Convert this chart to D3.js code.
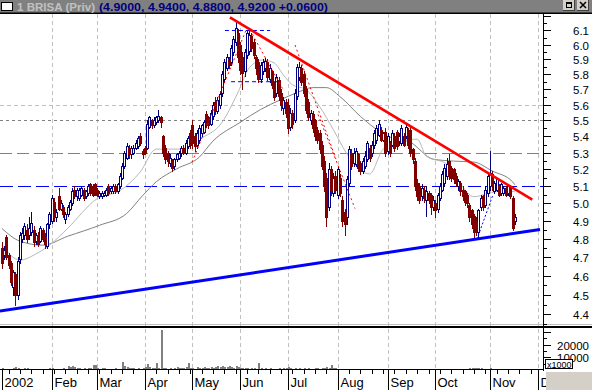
<!DOCTYPE html>
<html>
<head>
<meta charset="utf-8">
<script src="https://cdn.jsdelivr.net/npm/d3@7"></script>
<style>
  html, body { margin: 0; padding: 0; background: #fff; }
  svg { display: block; font-family: "Liberation Sans", Arial, sans-serif; }
</style>
</head>
<body>
<svg id="chart" width="592" height="390"></svg>
<script>
// daily bars [open, high, low, close], one array per month
var janBars = [
  [4.75,4.78,4.64,4.67],[4.71,4.76,4.69,4.74],[4.81,4.82,4.69,4.70],[4.71,4.72,4.64,4.66],
  [4.67,4.68,4.55,4.57],[4.54,4.63,4.50,4.62],[4.61,4.62,4.45,4.50],[4.50,4.70,4.48,4.68],
  [4.69,4.84,4.67,4.82],[4.80,4.86,4.78,4.83],[4.82,4.89,4.80,4.87],[4.85,4.88,4.78,4.80],
  [4.82,4.92,4.80,4.86],[4.84,4.95,4.82,4.89],[4.85,4.87,4.76,4.78],[4.79,4.83,4.77,4.82],
  [4.82,4.84,4.76,4.77],[4.79,4.87,4.78,4.86],[4.85,4.86,4.79,4.80],[4.81,4.83,4.75,4.77],
  [4.76,4.89,4.75,4.88],[4.88,4.95,4.86,4.94]
];
var febBars = [
  [4.90,5.05,4.89,5.03],[5.01,5.03,4.90,4.92],[4.92,4.97,4.90,4.95],[5.04,5.09,4.96,4.97],
  [4.97,5.02,4.96,5.00],[4.98,4.99,4.92,4.94],[4.91,4.95,4.89,4.94],[4.94,4.99,4.93,4.98],
  [4.97,5.02,4.96,5.01],[5.00,5.09,4.99,5.07],[5.08,5.10,5.03,5.04],[5.04,5.09,5.02,5.08],
  [5.03,5.09,5.02,5.08],[5.05,5.10,5.04,5.09],[5.08,5.09,5.02,5.03],[5.04,5.08,5.03,5.07],
  [5.06,5.11,5.05,5.10],[5.11,5.12,5.05,5.06],[5.10,5.11,5.04,5.05],[5.11,5.12,5.05,5.06]
];
var marBars = [
  [5.08,5.09,5.04,5.05],[5.04,5.07,5.03,5.06],[5.04,5.07,5.03,5.06],[5.05,5.07,5.04,5.06],
  [5.05,5.09,5.04,5.08],[5.10,5.11,5.05,5.06],[5.07,5.10,5.06,5.09],[5.07,5.11,5.06,5.10],
  [5.10,5.11,5.06,5.07],[5.07,5.12,5.06,5.11],[5.10,5.18,5.09,5.16],[5.15,5.24,5.14,5.22],
  [5.22,5.31,5.21,5.30],[5.27,5.36,5.26,5.34],[5.33,5.35,5.27,5.29],[5.29,5.34,5.27,5.33],
  [5.30,5.35,5.29,5.33],[5.33,5.38,5.32,5.36],[5.34,5.40,5.33,5.39],[5.40,5.42,5.35,5.36],
  [5.31,5.32,5.27,5.29]
];
var aprBars = [
  [5.33,5.34,5.29,5.30],[5.33,5.50,5.32,5.48],[5.46,5.53,5.45,5.52],[5.50,5.51,5.45,5.47],
  [5.47,5.52,5.46,5.50],[5.49,5.53,5.48,5.52],[5.50,5.57,5.49,5.53],[5.52,5.53,5.46,5.49],
  [5.40,5.41,5.28,5.30],[5.33,5.35,5.24,5.26],[5.30,5.31,5.22,5.25],[5.24,5.29,5.22,5.27],
  [5.25,5.26,5.19,5.21],[5.22,5.27,5.20,5.26],[5.26,5.30,5.25,5.29],[5.27,5.31,5.26,5.30],
  [5.30,5.34,5.28,5.33],[5.33,5.35,5.29,5.30],[5.30,5.38,5.29,5.36],[5.34,5.40,5.33,5.39],
  [5.42,5.44,5.33,5.35]
];
var mayBars = [
  [5.47,5.50,5.33,5.36],[5.40,5.42,5.31,5.34],[5.35,5.44,5.33,5.42],[5.38,5.47,5.36,5.45],
  [5.42,5.48,5.40,5.47],[5.43,5.50,5.42,5.49],[5.54,5.56,5.46,5.48],[5.52,5.53,5.45,5.47],
  [5.48,5.57,5.47,5.55],[5.53,5.62,5.51,5.60],[5.62,5.65,5.54,5.56],[5.56,5.65,5.55,5.63],
  [5.60,5.69,5.58,5.67],[5.68,5.82,5.66,5.80],[5.77,5.90,5.75,5.88],[5.84,5.94,5.83,5.92],
  [5.90,5.92,5.84,5.86],[5.88,6.00,5.86,5.98],[5.95,6.06,5.93,6.04],[6.02,6.16,6.00,6.12],
  [6.08,6.11,5.88,5.92]
];
var junBars = [
  [6.00,6.02,5.80,5.83],[5.92,5.95,5.70,5.81],[5.82,5.97,5.79,5.95],[5.93,6.10,5.91,6.08],
  [5.96,6.10,5.94,6.07],[6.06,6.08,5.96,5.98],[6.02,6.04,5.91,5.93],[5.92,5.93,5.80,5.84],
  [5.88,5.90,5.75,5.77],[5.77,5.88,5.75,5.86],[5.82,5.90,5.80,5.88],[5.84,5.91,5.82,5.89],
  [5.88,5.90,5.76,5.78],[5.77,5.87,5.75,5.84],[5.82,5.83,5.71,5.73],[5.74,5.75,5.63,5.65],
  [5.68,5.80,5.66,5.78],[5.76,5.78,5.63,5.66],[5.68,5.70,5.57,5.60],[5.58,5.65,5.54,5.63],
  [5.62,5.64,5.52,5.55]
];
var julBars = [
  [5.60,5.64,5.42,5.45],[5.46,5.58,5.44,5.55],[5.55,5.57,5.45,5.48],[5.50,5.70,5.49,5.68],
  [5.66,5.87,5.64,5.85],[5.78,5.88,5.76,5.85],[5.84,5.86,5.73,5.75],[5.80,5.82,5.66,5.68],
  [5.70,5.72,5.55,5.57],[5.62,5.64,5.50,5.52],[5.50,5.57,5.48,5.55],[5.54,5.56,5.43,5.45],
  [5.50,5.51,5.38,5.40],[5.44,5.46,5.36,5.38],[5.42,5.44,5.30,5.32],[5.35,5.37,5.20,5.22],
  [5.25,5.28,5.07,5.10],[5.15,5.18,4.87,4.92],[4.98,5.24,4.96,5.20],[5.20,5.22,5.05,5.08],
  [5.06,5.18,5.04,5.15],[5.16,5.19,5.06,5.08]
];
var augBars = [
  [5.05,5.22,5.03,5.20],[5.15,5.17,5.04,5.06],[5.02,5.04,4.87,4.90],[4.95,4.97,4.82,4.88],
  [4.92,5.16,4.88,5.14],[5.12,5.34,5.10,5.32],[5.30,5.32,5.20,5.22],[5.24,5.33,5.22,5.30],
  [5.23,5.33,5.22,5.31],[5.29,5.30,5.19,5.21],[5.24,5.25,5.17,5.19],[5.19,5.27,5.18,5.25],
  [5.22,5.31,5.21,5.28],[5.26,5.37,5.25,5.36],[5.33,5.35,5.25,5.27],[5.30,5.37,5.28,5.35],
  [5.35,5.44,5.33,5.42],[5.38,5.47,5.36,5.45],[5.41,5.50,5.40,5.48],[5.44,5.46,5.37,5.38],
  [5.38,5.43,5.37,5.42],[5.43,5.45,5.28,5.30]
];
var sepBars = [
  [5.31,5.42,5.29,5.40],[5.36,5.37,5.28,5.30],[5.35,5.44,5.34,5.42],[5.40,5.42,5.31,5.33],
  [5.43,5.44,5.32,5.34],[5.37,5.42,5.35,5.40],[5.36,5.47,5.35,5.45],[5.40,5.42,5.34,5.35],
  [5.40,5.48,5.39,5.46],[5.44,5.45,5.33,5.35],[5.44,5.46,5.28,5.30],[5.32,5.33,5.24,5.26],
  [5.25,5.27,5.08,5.10],[5.12,5.14,5.02,5.04],[5.10,5.12,5.00,5.02],[5.04,5.11,5.02,5.09],
  [5.08,5.10,5.01,5.03],[5.02,5.10,4.93,5.07],[5.06,5.07,5.00,5.02],[5.05,5.06,4.94,4.98],
  [4.98,5.04,4.96,5.02]
];
var octBars = [
  [5.00,5.02,4.92,4.96],[4.97,5.06,4.95,5.05],[5.03,5.12,5.02,5.10],[5.08,5.19,5.07,5.17],
  [5.12,5.23,5.10,5.21],[5.16,5.27,5.14,5.23],[5.25,5.29,5.14,5.16],[5.21,5.22,5.13,5.15],
  [5.20,5.21,5.12,5.14],[5.16,5.18,5.10,5.12],[5.10,5.14,5.08,5.13],[5.12,5.13,5.05,5.07],
  [5.08,5.10,5.02,5.04],[5.07,5.08,4.99,5.01],[5.05,5.06,4.98,5.00],[4.99,5.00,4.90,4.92],
  [4.96,4.97,4.86,4.88],[4.93,4.94,4.80,4.84],[4.90,4.92,4.82,4.85],[4.84,4.97,4.81,4.96],
  [4.98,5.05,4.96,5.03],[5.04,5.05,4.96,4.98],[4.99,5.10,4.98,5.08],[5.06,5.18,5.04,5.16]
];
var novBars = [
  [5.10,5.31,5.08,5.18],[5.17,5.19,5.08,5.10],[5.07,5.13,5.06,5.12],[5.08,5.15,5.07,5.14],
  [5.10,5.11,5.04,5.05],[5.06,5.12,5.05,5.11],[5.06,5.10,5.05,5.09],[5.09,5.10,5.04,5.05],
  [5.06,5.11,5.05,5.10],[5.09,5.10,5.03,5.04],[5.03,5.04,4.85,4.86],[4.90,4.94,4.88,4.92]
];

// daily volume, thousands of shares
var janVol = [1200,900,1100,800,1000,1300,2200,1500,900,1000,1800,1200,900,800,700,1000,900,800,1100,1000,900,1200];
var febVol = [1400,900,1100,1000,900,1300,1000,2800,2400,2900,2000,1500,1200,1000,1300,1100,1400,1500,4300,3600];
var marVol = [1300,1000,1200,1400,900,1100,800,1000,1300,1100,900,6600,3500,2000,1700,1500,1200,900,1300,1100,1800];
var aprVol = [2400,4700,2000,1500,1800,5600,1300,31500,1500,1200,1000,1400,1100,1600,2500,1800,1300,1200,2000,5800,1500];
var mayVol = [1300,1100,2000,1500,1200,2400,1800,1500,2000,1300,2500,2800,2200,3100,2600,2400,3000,2500,1800,3200,2100];
var junVol = [1500,1300,1800,1200,1000,1400,1600,1100,5300,1200,900,1500,1000,1200,800,1100,900,1300,1000,1200,1400];
var julVol = [2600,1800,1000,1300,900,1200,1000,1400,800,1600,900,1000,1200,1900,1000,1300,1500,2000,1500,3800,1800,1200];
var augVol = [900,700,800,600,1000,700,600,800,500,700,600,500,800,600,700,500,600,800,700,600,500,700];
var sepVol = [600,500,700,600,500,800,600,500,700,600,800,700,900,700,600,500,700,600,500,700,600];
var octVol = [700,600,800,700,600,900,700,600,800,700,600,700,800,900,1000,1200,1500,1800,1400,1600,1200,1000,900,800];
var novVol = [1400,900,700,600,700,500,600,700,500,600,900,700];

// month labels and the bar index where each month starts
var monthLabels = ["2002","Feb","Mar","Apr","May","Jun","Jul","Aug","Sep","Oct","Nov","Dec"];
var monthStarts = [0,22,42,63,84,105,126,148,170,191,215,236];

// moving averages [bar index, price]
var fastMA = [[0,4.765],[8,4.684],[15,4.717],[21,4.765],[29,4.858],[42,5.027],[52,5.073],[61,5.184],
  [68,5.322],[78,5.322],[87,5.383],[97,5.488],[104,5.679],[109,5.843],[115,5.897],[120,5.877],
  [124,5.797],[128,5.731],[134,5.699],[140,5.589],[146,5.444],[153,5.273],[162,5.172],[168,5.322],
  [175,5.371],[183,5.383],[187,5.279],[196,5.231],[202,5.114],[208,5.038],[214,5.056],[221,5.073],[226,5.067]];
var slowMA = [[0,4.858],[8,4.787],[18,4.765],[29,4.814],[43,4.875],[55,4.942],[62,5.044],[68,5.125],
  [77,5.202],[87,5.273],[93,5.371],[105,5.488],[114,5.570],[123,5.634],[130,5.679],[137,5.712],
  [143,5.712],[149,5.653],[158,5.526],[170,5.401],[180,5.364],[190,5.261],[199,5.249],[208,5.243],
  [216,5.190],[225,5.126],[226,5.108]];

// drawn studies [bar index, price]
var resistanceLine = [[100.5,6.193],[233.7,5.021]];
var supportLine = [[-0.8,4.417],[237.1,4.852]];
var topLevels = [[[98.3,6.10],[118.2,6.10]],[[101,5.751],[121.8,5.751]]];
var redDotted = [
  [[83.8,5.243],[108,6.118]],
  [[109.3,6.104],[123.9,5.699]],
  [[129.2,5.999],[147.2,5.261]],
  [[139.3,5.538],[155.6,4.970]]
];
var blueDotted = [[209.3,4.797],[216.4,5.050]];
var hLevels = [5.6, 5.5, 5.3, 5.1];

var priceTicks = d3.range(44, 62).map(function (d) { return d / 10; });
var volTicks = [10000, 20000];

// ---------------------------------------------------------------
var bars = [].concat(janBars, febBars, marBars, aprBars, mayBars, junBars,
  julBars, augBars, sepBars, octBars, novBars).map(function (d, i) {
  return { i: i, o: d[0], h: d[1], l: d[2], c: d[3] };
});
var vols = [].concat(janVol, febVol, marVol, aprVol, mayVol, junVol,
  julVol, augVol, sepVol, octVol, novVol);

var W = 592, H = 390;
var plotRight = 543, priceTop = 14, priceBottom = 323;
var svg = d3.select("#chart");

var x = d3.scaleLinear().domain([0, 236]).range([1.8, 537.5]);
var y = d3.scaleLog().domain([4.357, 6.224]).range([323, 13]);
var yv = d3.scaleLinear().domain([0, 33800]).range([370, 327]);

svg.append("rect").attr("width", W).attr("height", H).attr("fill", "#fff");

var defs = svg.append("defs");
defs.append("clipPath").attr("id", "pclip").append("rect")
  .attr("x", 0).attr("y", priceTop).attr("width", plotRight).attr("height", priceBottom - priceTop);
defs.append("clipPath").attr("id", "vclip").append("rect")
  .attr("x", 0).attr("y", 327).attr("width", plotRight).attr("height", 43);

// vertical month gridlines in both panels
var grid = svg.append("g").attr("shape-rendering", "crispEdges");
grid.selectAll("line.vg").data(monthStarts.slice(1)).join("line")
  .attr("x1", function (d) { return Math.round(x(d)) + 0.5; })
  .attr("x2", function (d) { return Math.round(x(d)) + 0.5; })
  .attr("y1", priceTop).attr("y2", 369)
  .attr("stroke", "#c0c0c0").attr("stroke-dasharray", "4,3");

// horizontal reference levels
var levelStyle = [
  { color: "#c0c0c0", dash: "4,3" },
  { color: "#808080", dash: "3,3" },
  { color: "#808080", dash: "12,5" },
  { color: "#0000ff", dash: "13,5" }
];
grid.selectAll("line.hl").data(hLevels).join("line")
  .attr("x1", 0).attr("x2", plotRight)
  .attr("y1", function (d) { return Math.round(y(d)) + 0.5; })
  .attr("y2", function (d) { return Math.round(y(d)) + 0.5; })
  .attr("stroke", function (d, i) { return levelStyle[i].color; })
  .attr("stroke-dasharray", function (d, i) { return levelStyle[i].dash; });

var pg = svg.append("g").attr("clip-path", "url(#pclip)");

// moving averages
var maLine = d3.line().x(function (d) { return x(d[0]); }).y(function (d) { return y(d[1]); })
  .curve(d3.curveMonotoneX);
pg.append("path").attr("d", maLine(slowMA)).attr("fill", "none").attr("stroke", "#808080").attr("stroke-width", 1);
pg.append("path").attr("d", maLine(fastMA)).attr("fill", "none").attr("stroke", "#b8b8b8").attr("stroke-width", 1);

// candles
var cg = pg.append("g").attr("shape-rendering", "crispEdges");
function cx(d) { return Math.round(x(d.i)); }
cg.selectAll("line.wick").data(bars).join("line")
  .attr("x1", function (d) { return cx(d) + 0.5; })
  .attr("x2", function (d) { return cx(d) + 0.5; })
  .attr("y1", function (d) { return Math.round(y(d.h)); })
  .attr("y2", function (d) { return Math.round(y(d.l)) + 1; })
  .attr("stroke", function (d) { return d.c >= d.o ? "#000080" : "#800000"; });
cg.selectAll("rect.up").data(bars.filter(function (d) { return d.c >= d.o; })).join("rect")
  .attr("x", function (d) { return cx(d) - 0.5; })
  .attr("y", function (d) { return Math.round(y(d.c)) + 0.5; })
  .attr("width", 2)
  .attr("height", function (d) { return Math.max(1, Math.round(y(d.o)) - Math.round(y(d.c))); })
  .attr("fill", "#fff").attr("stroke", "#000080");
cg.selectAll("rect.dn").data(bars.filter(function (d) { return d.c < d.o; })).join("rect")
  .attr("x", function (d) { return cx(d) - 1; })
  .attr("y", function (d) { return Math.round(y(d.o)); })
  .attr("width", 3)
  .attr("height", function (d) { return Math.max(1, Math.round(y(d.c)) - Math.round(y(d.o)) + 1); })
  .attr("fill", "#800000");

// drawn lines
var seg = d3.line().x(function (d) { return x(d[0]); }).y(function (d) { return y(d[1]); });
pg.selectAll("path.rd").data(redDotted).join("path")
  .attr("d", seg).attr("fill", "none").attr("stroke", "#ff0000").attr("stroke-width", 1)
  .attr("stroke-dasharray", "2,3");
pg.append("path").attr("d", seg(blueDotted)).attr("fill", "none")
  .attr("stroke", "#0000ff").attr("stroke-width", 1).attr("stroke-dasharray", "2,2");
pg.selectAll("path.tl").data(topLevels).join("path")
  .attr("d", seg).attr("fill", "none").attr("stroke", "#0000ff").attr("stroke-width", 1)
  .attr("stroke-dasharray", "4,3");
pg.append("path").attr("d", seg(resistanceLine)).attr("fill", "none")
  .attr("stroke", "#ff0000").attr("stroke-width", 2.6);
pg.append("path").attr("d", seg(supportLine)).attr("fill", "none")
  .attr("stroke", "#0000ff").attr("stroke-width", 3);

// volume
var vg = svg.append("g").attr("clip-path", "url(#vclip)").attr("shape-rendering", "crispEdges");
vg.selectAll("rect").data(vols).join("rect")
  .attr("x", function (d, i) { return Math.round(x(i)) - 0.5; })
  .attr("width", 2)
  .attr("y", function (d) { return yv(d); })
  .attr("height", function (d) { return 370 - yv(d); })
  .attr("fill", "#808080");

// panel separators
var fr = svg.append("g").attr("shape-rendering", "crispEdges");
fr.append("line").attr("x1", 0).attr("x2", W).attr("y1", 324.5).attr("y2", 324.5).attr("stroke", "#c0c0c0");
fr.append("line").attr("x1", 0).attr("x2", W).attr("y1", 326.5).attr("y2", 326.5).attr("stroke", "#000").attr("stroke-width", 2);
fr.append("line").attr("x1", 0).attr("x2", plotRight).attr("y1", 369.5).attr("y2", 369.5).attr("stroke", "#000");
fr.append("line").attr("x1", plotRight + 0.5).attr("x2", plotRight + 0.5).attr("y1", 13).attr("y2", 371).attr("stroke", "#000");

// right price axis
var minor = d3.range(87, 125).map(function (d) { return d / 20; });
fr.selectAll("line.mt").data(minor).join("line")
  .attr("x1", plotRight).attr("x2", function (d, i) { return plotRight + (i % 2 === 1 ? 8 : 4); })
  .attr("y1", function (d) { return Math.round(y(d)) + 0.5; })
  .attr("y2", function (d) { return Math.round(y(d)) + 0.5; })
  .attr("stroke", "#000");
svg.selectAll("text.pt").data(priceTicks).join("text")
  .attr("x", 589).attr("y", function (d) { return y(d) + 5; })
  .attr("text-anchor", "end").attr("font-size", 11.5).attr("fill", "#000")
  .text(function (d) { return d.toFixed(1); });

// volume axis
var vminor = d3.range(5000, 35000, 5000);
fr.selectAll("line.vt").data(vminor).join("line")
  .attr("x1", plotRight).attr("x2", function (d) { return plotRight + (d % 10000 === 0 ? 8 : 4); })
  .attr("y1", function (d) { return Math.round(yv(d)) + 0.5; })
  .attr("y2", function (d) { return Math.round(yv(d)) + 0.5; })
  .attr("stroke", "#000");
svg.selectAll("text.vt").data(volTicks).join("text")
  .attr("x", 589).attr("y", function (d) { return yv(d) + 5; })
  .attr("text-anchor", "end").attr("font-size", 11.5).attr("fill", "#000")
  .text(function (d) { return d; });
svg.append("rect").attr("x", 545.5).attr("y", 359.5).attr("width", 27).attr("height", 9)
  .attr("fill", "#fff").attr("stroke", "#000").attr("shape-rendering", "crispEdges");
svg.append("text").attr("x", 547).attr("y", 367.5).attr("font-size", 9).text("x1000");

// date axis
var weekTicks = d3.range(3, 236, 5);
fr.selectAll("line.wt").data(weekTicks).join("line")
  .attr("x1", function (d) { return Math.round(x(d)) + 0.5; })
  .attr("x2", function (d) { return Math.round(x(d)) + 0.5; })
  .attr("y1", 370).attr("y2", 374).attr("stroke", "#000");
fr.selectAll("line.ms").data(monthStarts).join("line")
  .attr("x1", function (d) { return Math.round(x(d)) + 0.5; })
  .attr("x2", function (d) { return Math.round(x(d)) + 0.5; })
  .attr("y1", 370).attr("y2", 390).attr("stroke", "#000");
svg.selectAll("text.ml").data(monthLabels).join("text")
  .attr("x", function (d, i) { return Math.round(x(monthStarts[i])) + 2.5; })
  .attr("y", 386.5).attr("font-size", 13).attr("fill", "#000")
  .text(function (d) { return d; });
svg.append("rect").attr("x", 546).attr("y", 372).attr("width", 46).attr("height", 18).attr("fill", "#d4d0c8");

// title bar
svg.append("rect").attr("x", 0).attr("y", 0).attr("width", W).attr("height", 12.5).attr("fill", "#808080");
fr.append("line").attr("x1", 0).attr("x2", W).attr("y1", 13).attr("y2", 13).attr("stroke", "#000").attr("stroke-width", 1.2);
svg.append("rect").attr("x", 1.5).attr("y", 2.5).attr("width", 11).attr("height", 8)
  .attr("fill", "#fff").attr("stroke", "#000").attr("shape-rendering", "crispEdges");
var last = bars[bars.length - 1], prev = bars[bars.length - 2];
svg.append("text").attr("x", 17).attr("y", 10.5).attr("font-size", 11).attr("font-weight", "bold")
  .attr("fill", "#c0c0c0").attr("textLength", 78).attr("lengthAdjust", "spacingAndGlyphs")
  .text("1 BRISA (Priv)");
var chg = last.c - prev.c;
svg.append("text").attr("x", 99).attr("y", 10.5).attr("font-size", 11).attr("font-weight", "bold")
  .attr("fill", "#000080").attr("textLength", 229).attr("lengthAdjust", "spacingAndGlyphs")
  .text("(" + [last.o, last.h, last.l, last.c].map(function (v) { return v.toFixed(4); }).join(", ") +
    " " + (chg >= 0 ? "+" : "") + chg.toFixed(4) + ")");

// window buttons
[563, 577].forEach(function (bx, k) {
  var b = svg.append("g").attr("shape-rendering", "crispEdges");
  b.append("rect").attr("x", bx).attr("y", 0).attr("width", 12).attr("height", 10).attr("fill", "#d4d0c8");
  b.append("line").attr("x1", bx).attr("x2", bx + 12).attr("y1", 10.5).attr("y2", 10.5).attr("stroke", "#404040");
  b.append("line").attr("x1", bx + 11.5).attr("x2", bx + 11.5).attr("y1", 0).attr("y2", 11).attr("stroke", "#404040");
  if (k === 0) {
    b.append("rect").attr("x", bx + 3.5).attr("y", 2.5).attr("width", 5).attr("height", 5)
      .attr("fill", "none").attr("stroke", "#000");
    b.append("line").attr("x1", bx + 3).attr("x2", bx + 9).attr("y1", 3.5).attr("y2", 3.5).attr("stroke", "#000");
  } else {
    b.append("path").attr("d", "M" + (bx + 3) + ",2L" + (bx + 9) + ",8M" + (bx + 9) + ",2L" + (bx + 3) + ",8")
      .attr("stroke", "#000").attr("stroke-width", 1.5).attr("shape-rendering", "auto");
  }
});
</script>
</body>
</html>
